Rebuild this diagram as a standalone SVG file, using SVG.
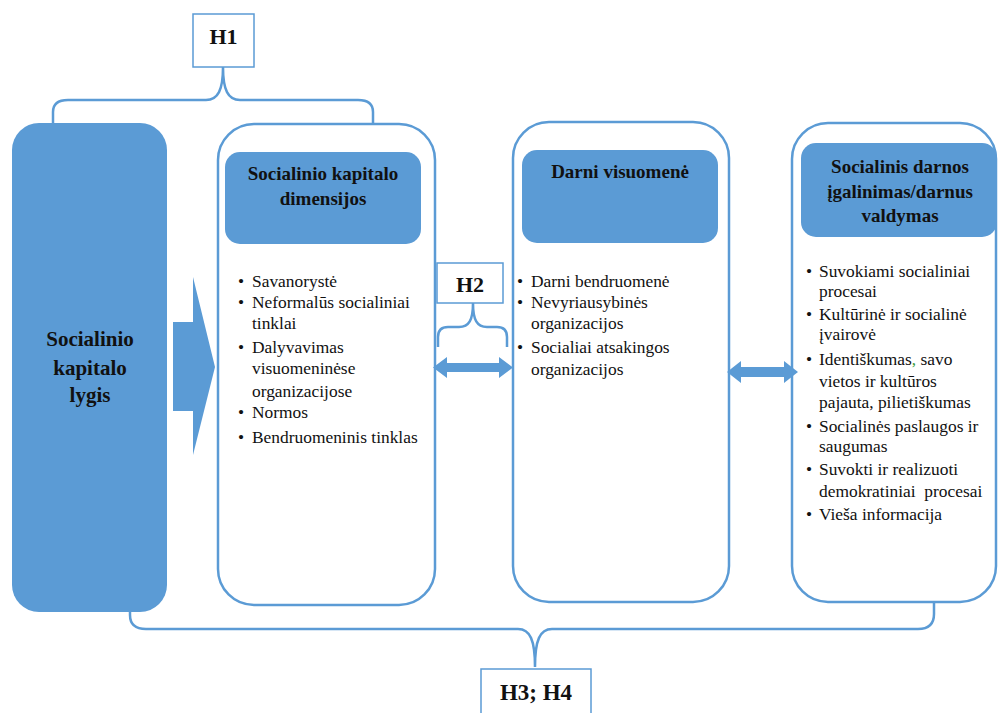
<svg xmlns="http://www.w3.org/2000/svg" width="998" height="713" viewBox="0 0 998 713">
<style>
.panel{fill:#fff;stroke:#5B9BD5;stroke-width:2.5}
.head{fill:#5B9BD5;stroke:none}
.hbox{fill:#fff;stroke:#5B9BD5;stroke-width:1.5}
.brace{fill:none;stroke:#5B9BD5;stroke-width:2.5}
.arr{fill:#5B9BD5;stroke:none}
</style>
<rect width="998" height="713" fill="#fff"/>
<g font-family="Liberation Serif, serif" fill="#111">
<g id="left-block">
<rect x="12" y="123" width="155" height="489" rx="27" class="head"/>
<text font-weight="bold" font-size="21" text-anchor="middle"><tspan x="90" y="346">Socialinio</tspan><tspan x="90" y="375">kapitalo</tspan><tspan x="90" y="402">lygis</tspan></text>
</g>
<g id="dimensions">
<rect x="218" y="124" width="217" height="481" rx="36" class="panel"/>
<rect x="225" y="152" width="196" height="92" rx="15" class="head"/>
<text font-weight="bold" font-size="19" text-anchor="middle"><tspan x="323" y="180">Socialinio kapitalo</tspan><tspan x="323" y="205">dimensijos</tspan></text>
<text font-size="17.4"><tspan x="238" y="287">•</tspan><tspan x="238" y="308">•</tspan><tspan x="238" y="353">•</tspan><tspan x="238" y="418">•</tspan><tspan x="238" y="443">•</tspan></text>
<text font-size="17.4"><tspan x="252" y="287">Savanorystė</tspan><tspan x="252" y="308">Neformalūs socialiniai</tspan><tspan x="252" y="329">tinklai</tspan><tspan x="252" y="353">Dalyvavimas</tspan><tspan x="252" y="374">visuomeninėse</tspan><tspan x="252" y="397">organizacijose</tspan><tspan x="252" y="418">Normos</tspan><tspan x="252" y="443">Bendruomeninis tinklas</tspan></text>
</g>
<g id="society">
<rect x="513" y="122" width="216" height="480" rx="36" class="panel"/>
<rect x="522" y="150" width="196" height="93" rx="15" class="head"/>
<text font-weight="bold" font-size="19" text-anchor="middle" x="620" y="178">Darni visuomenė</text>
<text font-size="17.4"><tspan x="517" y="287">•</tspan><tspan x="517" y="308">•</tspan><tspan x="517" y="353">•</tspan></text>
<text font-size="17.4"><tspan x="531" y="287">Darni bendruomenė</tspan><tspan x="531" y="308">Nevyriausybinės</tspan><tspan x="531" y="329">organizacijos</tspan><tspan x="531" y="353">Socialiai atsakingos</tspan><tspan x="531" y="375">organizacijos</tspan></text>
</g>
<g id="governance">
<rect x="792" y="123" width="204" height="479" rx="36" class="panel"/>
<rect x="801" y="143" width="196" height="94" rx="15" class="head"/>
<text font-weight="bold" font-size="19" text-anchor="middle"><tspan x="900" y="173">Socialinis darnos</tspan><tspan x="900" y="198">įgalinimas/darnus</tspan><tspan x="900" y="222">valdymas</tspan></text>
<text font-size="17.4"><tspan x="806" y="277">•</tspan><tspan x="806" y="320">•</tspan><tspan x="806" y="365">•</tspan><tspan x="806" y="432">•</tspan><tspan x="806" y="475">•</tspan><tspan x="806" y="520">•</tspan></text>
<text font-size="17.4"><tspan x="819" y="277">Suvokiami socialiniai</tspan><tspan x="819" y="297">procesai</tspan><tspan x="819" y="320">Kultūrinė ir socialinė</tspan><tspan x="819" y="340">įvairovė</tspan><tspan x="819" y="365">Identiškumas<tspan fill="#3a9a3a">,</tspan> savo</tspan><tspan x="819" y="387">vietos ir kultūros</tspan><tspan x="819" y="408">pajauta, pilietiškumas</tspan><tspan x="819" y="432">Socialinės paslaugos ir</tspan><tspan x="819" y="452">saugumas</tspan><tspan x="819" y="475">Suvokti ir realizuoti</tspan><tspan x="819" y="497" xml:space="preserve">demokratiniai  procesai</tspan><tspan x="819" y="520">Vieša informacija</tspan></text>
</g>
<g id="H1">
<rect x="193" y="14" width="61" height="53" class="hbox"/>
<text font-weight="bold" font-size="22" x="223.5" y="44" text-anchor="middle">H1</text>
</g>
<g id="H2">
<rect x="437" y="263" width="66" height="40" class="hbox"/>
<text font-weight="bold" font-size="22" x="470" y="292" text-anchor="middle">H2</text>
</g>
<g id="H3H4">
<rect x="481" y="669" width="110" height="50" class="hbox"/>
<text font-weight="bold" font-size="23" x="536" y="700" text-anchor="middle">H3; H4</text>
</g>
</g>
<g id="connectors">
<path class="brace" d="M223 67 C223 90 228 100 240 100 L358 100 Q373 100 373 112 L373 123 M223 67 C223 90 218 100 206 100 L68 100 Q53 100 53 112 L53 123"/>
<path class="brace" d="M473 303 C473 320 477 327 487 327 L497 327 Q507 327 507 337 L507 347 M473 303 C473 320 469 327 459 327 L448 327 Q438 327 438 337 L438 347"/>
<path class="brace" d="M535 667 C535 640 540 629 552 629 L918 629 Q934 629 934 614 L934 602 M535 667 C535 640 530 629 518 629 L146 629 Q130 629 130 615 L130 612"/>
<polygon class="arr" points="173,322 193,322 193,277 215,367 193,455 193,411 173,411"/>
<polygon class="arr" points="433,367.5 447,357 447,363 499,363 499,357 513,367.5 499,378 499,372 447,372 447,378"/>
<polygon class="arr" points="727,372 741,361 741,367 784,367 784,361 798,372 784,383 784,377 741,377 741,383"/>
</g>
</svg>
